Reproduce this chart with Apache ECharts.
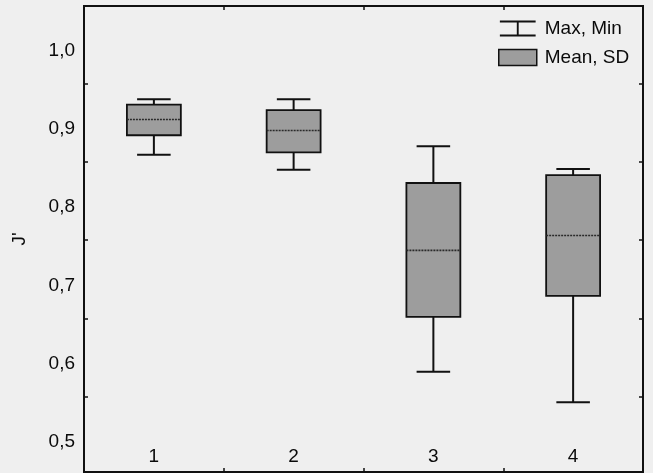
<!DOCTYPE html>
<html><head><meta charset="utf-8">
<script src="https://cdn.jsdelivr.net/npm/echarts@6/dist/echarts.min.js"></script>
<style>html,body{margin:0;padding:0;background:#efefef}#c{width:653px;height:473px}</style>
</head><body><div id="c"></div>
<script>
const categories = ['1', '2', '3', '4'];
const maxVals = [0.930, 0.930, 0.870, 0.841];
const sdHigh  = [0.923, 0.916, 0.823, 0.833];
const means   = [0.904, 0.890, 0.737, 0.756];
const sdLow   = [0.884, 0.862, 0.652, 0.679];
const minVals = [0.859, 0.840, 0.582, 0.543];
const yTickLabels = [0.5, 0.6, 0.7, 0.8, 0.9, 1.0];
const yMinorTicks = [0.55, 0.65, 0.75, 0.85, 0.95];
const yMin = 0.454, yMax = 1.049;

const FONT = '"Liberation Sans", Arial, sans-serif';
const INK = '#111111';
const TXT = '#0a0a0a';
const BOX_FILL = '#9d9d9d';
const FS = 19;

const whiskerData = categories.map((c, i) => [i, maxVals[i], sdHigh[i], sdLow[i], minVals[i]]);
const boxData = categories.map((c, i) => [i, sdHigh[i], means[i], sdLow[i]]);

function renderWhisker(params, api) {
  const i = api.value(0);
  const band = api.size([1, 0])[0];
  const capHalf = band * 0.12;
  const pMax = api.coord([i, api.value(1)]);
  const pHi = api.coord([i, api.value(2)]);
  const pLo = api.coord([i, api.value(3)]);
  const pMin = api.coord([i, api.value(4)]);
  const x = pMax[0];
  const st = { stroke: INK, lineWidth: 2, fill: null };
  return {
    type: 'group',
    children: [
      { type: 'line', shape: { x1: x, y1: pMax[1], x2: x, y2: pHi[1] }, style: st },
      { type: 'line', shape: { x1: x, y1: pLo[1], x2: x, y2: pMin[1] }, style: st },
      { type: 'line', shape: { x1: x - capHalf, y1: pMax[1], x2: x + capHalf, y2: pMax[1] }, style: st },
      { type: 'line', shape: { x1: x - capHalf, y1: pMin[1], x2: x + capHalf, y2: pMin[1] }, style: st }
    ]
  };
}

function renderBox(params, api) {
  const i = api.value(0);
  const band = api.size([1, 0])[0];
  const half = band * 0.193;
  const pHi = api.coord([i, api.value(1)]);
  const pMean = api.coord([i, api.value(2)]);
  const pLo = api.coord([i, api.value(3)]);
  const x = pHi[0];
  return {
    type: 'group',
    children: [
      { type: 'rect', shape: { x: x - half, y: pHi[1], width: half * 2, height: pLo[1] - pHi[1] },
        style: { fill: BOX_FILL, stroke: INK, lineWidth: 1.8 } },
      { type: 'line', shape: { x1: x - half, y1: pMean[1], x2: x + half, y2: pMean[1] },
        style: { stroke: '#2a2a2a', lineWidth: 1.6, lineDash: [2, 1] } }
    ]
  };
}

const chart = echarts.init(document.getElementById('c'), null, { renderer: 'canvas' });
const tickStyle = { color: INK, width: 1.5 };
chart.setOption({
  backgroundColor: '#efefef',
  animation: false,
  textStyle: { fontFamily: FONT },
  grid: { left: 84, top: 6, width: 559, height: 466, show: true, borderColor: INK, borderWidth: 2, backgroundColor: 'transparent' },
  legend: {
    orient: 'vertical', left: 493, top: 14, itemWidth: 38, itemHeight: 16, itemGap: 10,
    selectedMode: false,
    textStyle: { fontSize: FS, fontFamily: FONT, color: TXT, padding: [0, 0, 0, 3] },
    data: [
      { name: 'Max, Min', icon: 'path://M0,0h38v2h-38z M18,0h2v17h-2z M0,15h38v2h-38z', itemStyle: { color: INK, borderWidth: 0 } },
      { name: 'Mean, SD', icon: 'rect', itemStyle: { color: BOX_FILL, borderColor: INK, borderWidth: 1.5 } }
    ]
  },
  xAxis: [
    {
      type: 'category', data: categories, position: 'bottom', boundaryGap: true,
      axisLine: { show: false },
      axisTick: { show: true, inside: true, length: 4, lineStyle: tickStyle },
      axisLabel: { inside: true, margin: 6, fontSize: FS, color: TXT, fontFamily: FONT },
      splitLine: { show: false }
    },
    {
      type: 'category', data: categories, position: 'top', boundaryGap: true,
      axisLine: { show: false },
      axisTick: { show: true, inside: true, length: 4, lineStyle: tickStyle },
      axisLabel: { show: false },
      splitLine: { show: false }
    }
  ],
  yAxis: [
    {
      type: 'value', min: yMin, max: yMax, position: 'left',
      name: "J'", nameLocation: 'middle', nameRotate: 90, nameGap: 55,
      nameTextStyle: { fontSize: FS, color: TXT, fontFamily: FONT },
      axisLine: { show: false },
      splitLine: { show: false },
      axisTick: { show: true, inside: true, length: 4, lineStyle: tickStyle, customValues: yMinorTicks },
      axisLabel: {
        customValues: yTickLabels, margin: 9, fontSize: FS, color: TXT, fontFamily: FONT,
        verticalAlign: 'top', lineHeight: 12,
        formatter: v => v.toFixed(1).replace('.', ',')
      }
    },
    {
      type: 'value', min: yMin, max: yMax, position: 'right',
      axisLine: { show: false },
      splitLine: { show: false },
      axisTick: { show: true, inside: true, length: 4, lineStyle: tickStyle, customValues: yMinorTicks },
      axisLabel: { show: false }
    }
  ],
  series: [
    {
      name: 'Max, Min', type: 'custom', renderItem: renderWhisker,
      xAxisIndex: 0, yAxisIndex: 0, data: whiskerData,
      encode: { x: 0, y: [1, 2, 3, 4] }, itemStyle: { color: INK }, z: 2
    },
    {
      name: 'Mean, SD', type: 'custom', renderItem: renderBox,
      xAxisIndex: 0, yAxisIndex: 0, data: boxData,
      encode: { x: 0, y: [1, 2, 3] }, itemStyle: { color: BOX_FILL }, z: 3
    }
  ]
});
</script>
</body></html>
